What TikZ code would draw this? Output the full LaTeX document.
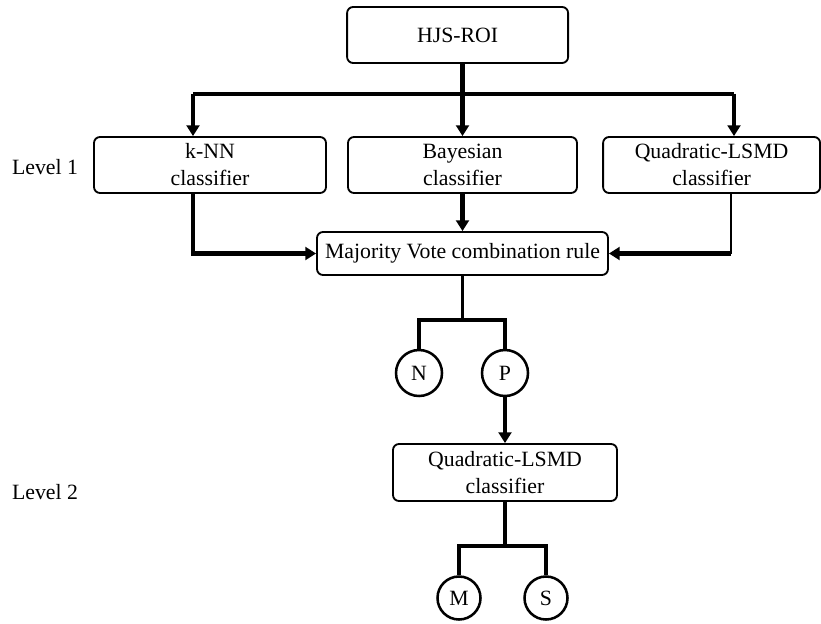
\documentclass[tikz,border=0pt]{standalone}
\usepackage{fontspec}
\setmainfont{Liberation Serif}
\usetikzlibrary{arrows.meta}

\begin{document}
\begin{tikzpicture}[x=1cm,y=1cm,
  box/.style={draw,line width=1.3pt,rounded corners=0.15cm,align=center,inner sep=0pt,
    font=\fontsize{15.5}{19.2}\selectfont},
  leaf/.style={draw,circle,line width=1.8pt,inner sep=0pt,font=\fontsize{15.5}{17}\selectfont},
  conn/.style={line width=3.2pt},
  branch/.style={line width=2.4pt},
  tip/.style={-{Triangle[length=0.27cm,width=0.32cm]}}]
\path[use as bounding box] (0,0) rectangle (20.525,15.575);
% top node and level 1
\node[box,minimum width=5.525cm,minimum height=1.4cm] (hjs) at (11.44,14.7) {HJS-ROI};
\node[box,minimum width=5.8cm,minimum height=1.4cm] (knn) at (5.25,11.45) {k-NN\\classifier};
\node[box,minimum width=5.725cm,minimum height=1.4cm] (bayes) at (11.5625,11.45) {Bayesian\\classifier};
\node[box,minimum width=5.425cm,minimum height=1.4cm] (quad) at (17.79,11.45) {Quadratic-LSMD\\classifier};
\node[box,minimum width=7.275cm,minimum height=1.075cm] (vote) at (11.5625,9.2375) {Majority Vote combination rule};
\node[font=\fontsize{15.5}{17}\selectfont] (lev1) at (1.125,11.4) {Level 1};
% level 2
\node[leaf,minimum size=1.15cm] (nneg) at (10.475,6.25) {N};
\node[leaf,minimum size=1.15cm] (ppos) at (12.625,6.25) {P};
\node[box,minimum width=5.6cm,minimum height=1.425cm] (quadb) at (12.625,3.7625) {Quadratic-LSMD\\classifier};
\node[font=\fontsize{15.5}{17}\selectfont] (lev2) at (1.125,3.275) {Level 2};
\node[leaf,minimum size=1.075cm] (mal) at (11.475,0.625) {M};
\node[leaf,minimum size=1.075cm] (sus) at (13.65,0.625) {S};
% fork and branch points
\coordinate (tl) at (4.825,13.225);
\coordinate (tr) at (18.35,13.225);
\coordinate (b1) at (11.5625,7.575);
\coordinate (b2) at (12.625,1.925);
% connectors
\draw[conn,tip] (hjs.south -| bayes.north) -- (bayes.north);
\draw[conn] (tl) -- (tr);
\draw[conn,tip] (tl) -- (tl |- knn.north);
\draw[conn,tip] (tr) -- (tr |- quad.north);
\draw[conn,tip] (tl |- knn.south) -- (tl |- vote.west) -- (vote.west);
\draw[conn,tip] (bayes.south) -- (vote.north);
\draw[line width=1.6pt] ([xshift=-0.075cm]tr |- quad.south) -- ([xshift=-0.075cm]tr |- vote.east);
\draw[conn,tip] ([xshift=-0.075cm]tr |- vote.east) -- (vote.east);
\draw[branch] (vote.south) -- (b1);
\draw[branch] (nneg.north) -- (nneg.north |- b1) -- (ppos.north |- b1) -- (ppos.north);
\draw[branch,tip] (ppos.south) -- (quadb.north);
\draw[branch] (quadb.south) -- (b2);
\draw[branch] (mal.north) -- (mal.north |- b2) -- (sus.north |- b2) -- (sus.north);
\end{tikzpicture}
\end{document}
